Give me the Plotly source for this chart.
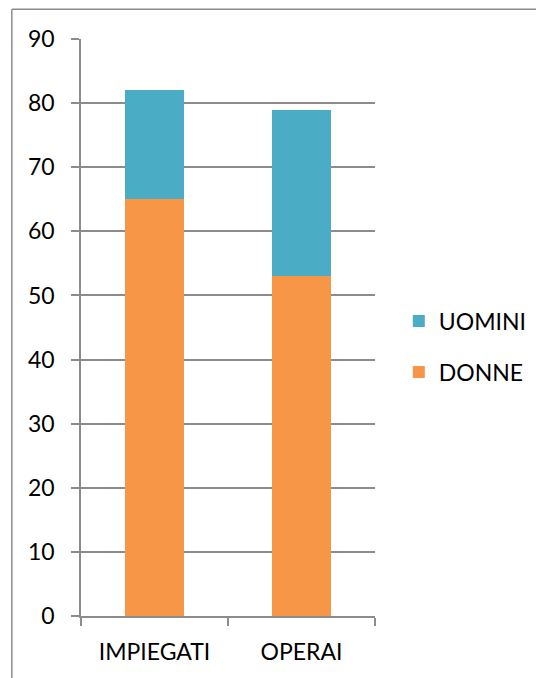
import plotly.graph_objects as go

categories = ["IMPIEGATI", "OPERAI"]
donne = [65, 53]
uomini = [17, 26]
y_ticks = [0, 10, 20, 30, 40, 50, 60, 70, 80, 90]

FONT = "Lato"
FS = 23
GRID = "#8c8c8c"

fig = go.Figure()
fig.add_trace(go.Bar(name="DONNE", x=categories, y=donne, marker_color="#F79646",
                     marker_line_width=0, width=0.4, legendgroup="d", legendrank=2))
fig.add_trace(go.Bar(name="UOMINI", x=categories, y=uomini, marker_color="#4BACC6",
                     marker_line_width=0, width=0.4, legendgroup="u", legendrank=1))

# page body has an 8px margin; figure occupies page (8,8)-(544,678)
OFF = 8
W, H = 536, 670
L, R, T, B = 72.7, 167, 30.7, 62

def px_x(p):
    return (p - OFF - L) / (W - L - R)

def px_y(p):
    return (H - B - (p - OFF)) / (H - T - B)

border = dict(color="#8c8c8c", width=1.5)

fig.update_layout(
    width=W, height=H,
    barmode="stack",
    paper_bgcolor="white", plot_bgcolor="white",
    margin=dict(l=L, r=R, t=T, b=B, pad=0),
    font=dict(family=FONT, size=FS, color="#000000"),
    legend=dict(x=px_x(401), y=px_y(346.5), xanchor="left", yanchor="middle",
                traceorder="grouped", tracegroupgap=18,
                font=dict(family=FONT, size=FS), bgcolor="rgba(0,0,0,0)"),
    xaxis=dict(showline=True, linecolor=GRID, linewidth=1.5, ticks="outside",
               tickson="boundaries", ticklen=8, tickcolor=GRID, tickwidth=1.5,
               showgrid=False, ticklabelstandoff=15,
               tickfont=dict(family=FONT, size=FS)),
    yaxis=dict(range=[0, 90], tickvals=y_ticks, showline=True, linecolor=GRID,
               linewidth=1.5, ticks="outside", ticklen=8, tickcolor=GRID,
               tickwidth=1.5, showgrid=True, gridcolor=GRID, gridwidth=1.5,
               zeroline=False, ticklabelstandoff=12,
               tickfont=dict(family=FONT, size=FS)),
    shapes=[
        dict(type="line", xref="paper", yref="paper",
             x0=px_x(11), x1=px_x(560), y0=px_y(9), y1=px_y(9),
             line=border, layer="below"),
        dict(type="line", xref="paper", yref="paper",
             x0=px_x(11), x1=px_x(11), y0=px_y(9), y1=px_y(700),
             line=border, layer="below"),
    ],
)

fig.write_html("out.html")
